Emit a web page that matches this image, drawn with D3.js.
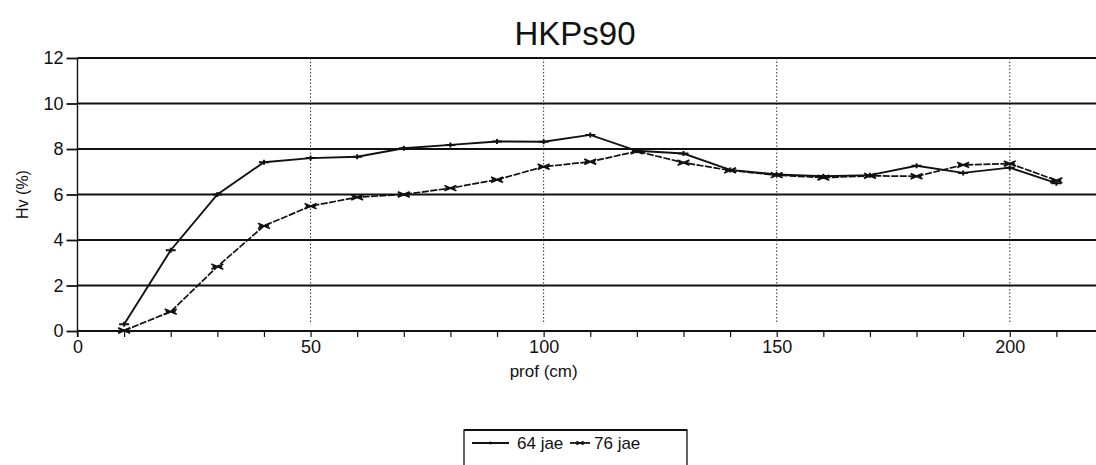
<!DOCTYPE html>
<html>
<head>
<meta charset="utf-8">
<script src="https://cdn.jsdelivr.net/npm/d3@7"></script>
<style>
  html, body { margin: 0; padding: 0; background: #fff; }
  svg { display: block; font-family: "Liberation Sans", Arial, sans-serif; }
</style>
</head>
<body>
<svg id="chart" width="1096" height="465"></svg>
<script>
// Depth profile (cm) and volumetric moisture (%) for two dates
const depths = [10, 20, 30, 40, 50, 60, 70, 80, 90, 100, 110, 120, 130, 140, 150, 160, 170, 180, 190, 200, 210];
const series64 = [0.3, 3.55, 6.0, 7.42, 7.6, 7.66, 8.03, 8.18, 8.33, 8.32, 8.62, 7.92, 7.8, 7.08, 6.88, 6.8, 6.85, 7.26, 6.95, 7.18, 6.5];
const series76 = [0.02, 0.85, 2.83, 4.62, 5.49, 5.88, 6.0, 6.28, 6.65, 7.22, 7.44, 7.9, 7.4, 7.06, 6.85, 6.74, 6.82, 6.8, 7.3, 7.36, 6.62];
const seriesNames = ["64 jae", "76 jae"];
const yTicks = [0, 2, 4, 6, 8, 10, 12];
const xLabelTicks = [0, 50, 100, 150, 200];
const xMinorTicks = d3.range(0, 221, 10);
const titleText = "HKPs90";
const xTitle = "prof (cm)";
const yTitle = "Hv (%)";

const svg = d3.select("#chart");
const ink = "#111";

const x = d3.scaleLinear().domain([0, 220]).range([77.5, 1103]);
const y = d3.scaleLinear().domain([0, 12]).range([331, 58]);

svg.append("defs").append("clipPath").attr("id", "clip")
  .append("rect").attr("x", 0).attr("y", 0).attr("width", 1096).attr("height", 465);

const root = svg.append("g").attr("clip-path", "url(#clip)");

// Title
root.append("text")
  .attr("x", 575).attr("y", 45)
  .attr("text-anchor", "middle")
  .attr("font-size", 33)
  .attr("fill", ink)
  .text(titleText);

// Horizontal grid lines at each y tick
root.append("g").selectAll("line")
  .data(yTicks)
  .join("line")
  .attr("x1", x(0)).attr("x2", 1096)
  .attr("y1", d => y(d)).attr("y2", d => y(d))
  .attr("stroke", ink)
  .attr("stroke-width", 2);

// Dotted vertical grid lines at labelled depths
root.append("g").selectAll("line")
  .data(xLabelTicks.filter(d => d > 0))
  .join("line")
  .attr("x1", d => x(d)).attr("x2", d => x(d))
  .attr("y1", y(12)).attr("y2", y(0.3))
  .attr("stroke", "#333")
  .attr("stroke-width", 1)
  .attr("stroke-dasharray", "1.5,2");

// Y axis
const yAxis = root.append("g")
  .attr("transform", `translate(${x(0)},0)`)
  .call(d3.axisLeft(y).tickValues(yTicks).tickSize(11).tickPadding(3).tickSizeOuter(0));
yAxis.select(".domain").attr("stroke", ink).attr("stroke-width", 1.4)
  .attr("d", `M0,${y(12)}V${y(0) + 6}`);
yAxis.selectAll(".tick line").attr("stroke", ink).attr("stroke-width", 1.8);
yAxis.selectAll(".tick text")
  .attr("font-size", 18).attr("fill", ink)
  .attr("font-family", "Liberation Sans, Arial, sans-serif");

// X axis: ticks every 10 cm, labels every 50 cm
const xAxis = root.append("g")
  .attr("transform", `translate(0,${y(0)})`)
  .call(d3.axisBottom(x).tickValues(xMinorTicks).tickSize(6).tickPadding(3)
    .tickFormat(d => xLabelTicks.includes(d) ? d : "").tickSizeOuter(0));
xAxis.select(".domain").attr("stroke", ink).attr("stroke-width", 2)
  .attr("d", `M${x(0)},0H1096`);
xAxis.selectAll(".tick line").attr("stroke", ink).attr("stroke-width", 1.2);
xAxis.selectAll(".tick text")
  .attr("font-size", 18).attr("fill", ink)
  .attr("font-family", "Liberation Sans, Arial, sans-serif");

// Axis titles
root.append("text")
  .attr("x", x(100)).attr("y", 377)
  .attr("text-anchor", "middle")
  .attr("font-size", 17).attr("fill", ink)
  .text(xTitle);

root.append("text")
  .attr("transform", `translate(28,${y(6)}) rotate(-90)`)
  .attr("text-anchor", "middle")
  .attr("font-size", 16).attr("fill", ink)
  .text(yTitle);

// Series
const line = d3.line().x(d => x(d[0])).y(d => y(d[1]));
const data64 = depths.map((d, i) => [d, series64[i]]);
const data76 = depths.map((d, i) => [d, series76[i]]);

const marker64 = "M-5,0H5M0,-2.5V2.5";
const marker76 = "M-6,-2.6L6,2.6M-6,2.6L6,-2.6M-5,0H5";

root.append("path")
  .datum(data76)
  .attr("d", line)
  .attr("fill", "none")
  .attr("stroke", ink)
  .attr("stroke-width", 1.7)
  .attr("stroke-dasharray", "7,1.5");

root.append("path")
  .datum(data64)
  .attr("d", line)
  .attr("fill", "none")
  .attr("stroke", ink)
  .attr("stroke-width", 1.9);

root.append("g").selectAll("path")
  .data(data64)
  .join("path")
  .attr("transform", d => `translate(${x(d[0])},${y(d[1])})`)
  .attr("d", marker64)
  .attr("fill", "none").attr("stroke", ink).attr("stroke-width", 2);

root.append("g").selectAll("path")
  .data(data76)
  .join("path")
  .attr("transform", d => `translate(${x(d[0])},${y(d[1])})`)
  .attr("d", marker76)
  .attr("fill", "none").attr("stroke", ink).attr("stroke-width", 1.8);

// Legend box (bottom edge runs off the page)
const legend = root.append("g");
legend.append("path")
  .attr("d", "M464,470V430H687V470")
  .attr("fill", "none").attr("stroke", ink).attr("stroke-width", 1.3);
legend.append("line")
  .attr("x1", 464).attr("x2", 687).attr("y1", 430).attr("y2", 430)
  .attr("stroke", ink).attr("stroke-width", 2.2);

const legendItems = [
  { name: seriesNames[0], lx: 472, tx: 517, marker: marker64 },
  { name: seriesNames[1], lx: 570, tx: 594, marker: marker76 }
];
legendItems.forEach((it, i) => {
  const len = i === 0 ? 37 : 20;
  legend.append("line")
    .attr("x1", it.lx).attr("x2", it.lx + len)
    .attr("y1", 443).attr("y2", 443)
    .attr("stroke", ink).attr("stroke-width", 1.8);
  legend.append("path")
    .attr("transform", `translate(${it.lx + len / 2},443) scale(0.6)`)
    .attr("d", it.marker)
    .attr("fill", "none").attr("stroke", ink).attr("stroke-width", 2.4);
  legend.append("text")
    .attr("x", it.tx).attr("y", 449)
    .attr("font-size", 17).attr("fill", ink)
    .text(it.name);
});
</script>
</body>
</html>
